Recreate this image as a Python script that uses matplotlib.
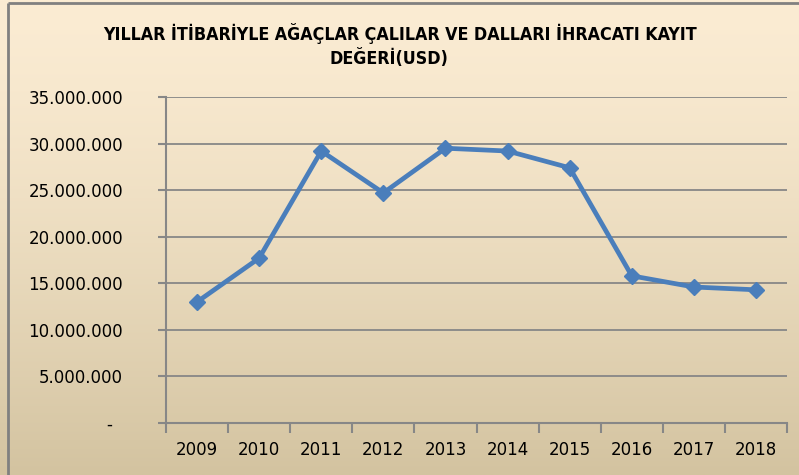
import numpy as np
import matplotlib.pyplot as plt
from matplotlib.ticker import FuncFormatter

years = ["2009", "2010", "2011", "2012", "2013", "2014", "2015", "2016", "2017", "2018"]
values = [13.0e6, 17.7e6, 29.2e6, 24.7e6, 29.5e6, 29.2e6, 27.4e6, 15.8e6, 14.6e6, 14.3e6]
yticks = [0, 5e6, 10e6, 15e6, 20e6, 25e6, 30e6, 35e6]

title1 = "YILLAR İTİBARİYLE AĞAÇLAR ÇALILAR VE DALLARI İHRACATI KAYIT"
title2 = "DEĞERİ(USD)"

W, H = 799, 475
fig = plt.figure(figsize=(W / 100, H / 100), dpi=100)

# gradient background like the Excel chart area
bg = fig.add_axes([0, 0, 1, 1], zorder=-10)
top = np.array([251, 236, 211]) / 255
bot = np.array([211, 195, 160]) / 255
t = np.linspace(0, 1, 256)[:, None] ** 1.4
grad = top * (1 - t) + bot * t
bg.imshow(grad[:, None, :].repeat(2, axis=1), aspect="auto", extent=[0, 1, 0, 1])
bg.set_xlim(0, 1)
bg.set_ylim(0, 1)
bg.axis("off")
# border of the chart area (left and top visible)
bg.plot([8 / W, 8 / W], [0, 1 - 3 / H], color="#808080", lw=2, solid_capstyle="butt")
bg.plot([8 / W, 1], [1 - 3 / H, 1 - 3 / H], color="#808080", lw=2, solid_capstyle="butt")

fig.text(400 / W, 1 - 33 / H, title1, ha="center", va="center", fontsize=12.8,
         fontweight="bold", family="DejaVu Sans", fontstretch="condensed")
fig.text(389 / W, 1 - 58 / H, title2, ha="center", va="center", fontsize=12.8,
         fontweight="bold", family="DejaVu Sans", fontstretch="condensed")

ax = fig.add_axes([166 / W, 1 - 423 / H, (787 - 166) / W, (423 - 97) / H])
ax.set_facecolor("none")

x = np.arange(len(years))
ax.plot(x, values, color="#4A7EBB", lw=3.4, marker="D", markersize=8.5,
        markerfacecolor="#4A7EBB", markeredgecolor="#4A7EBB", zorder=3)

ax.set_xlim(-0.5, len(years) - 0.5)
ax.set_ylim(0, 35e6)
ax.set_yticks(yticks)
ax.yaxis.set_major_formatter(FuncFormatter(
    lambda v, p: "-  " if v == 0 else f"{int(v):,}".replace(",", ".")))
ax.grid(axis="y", color="#878787", lw=1.3)
ax.set_axisbelow(True)

ax.set_xticks(x)
ax.set_xticklabels(years)
ax.set_xticks(np.arange(-0.5, len(years)), minor=True)
ax.tick_params(axis="x", which="major", length=0, pad=13, labelsize=12)
ax.tick_params(axis="x", which="minor", length=7, width=1.5, color="#878787")
ax.tick_params(axis="y", length=6, width=1.5, color="#878787", pad=25, labelsize=12)

for s in ["top", "right"]:
    ax.spines[s].set_visible(False)
for s in ["left", "bottom"]:
    ax.spines[s].set_color("#878787")
    ax.spines[s].set_linewidth(1.5)

fig.savefig("out.png", dpi=100)
